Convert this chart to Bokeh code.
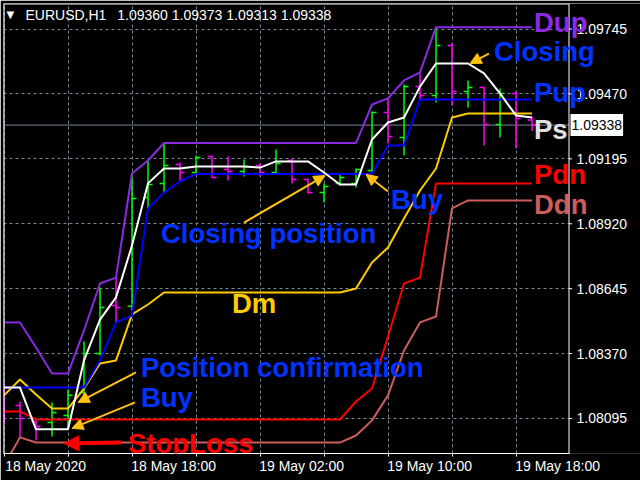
import numpy as np
from bokeh.plotting import figure
from bokeh.models import (ColumnDataSource, FixedTicker, LinearAxis, Label, Arrow,
                          NormalHead, Span, Range1d, Grid, BoxAnnotation)
from bokeh.embed import file_html
from bokeh.resources import INLINE

# ---------------- data ----------------
symbol = "EURUSD,H1"
x_labels = ["18 May 2020", "18 May 18:00", "19 May 02:00", "19 May 10:00", "19 May 18:00"]
x_label_bars = [0, 8, 16, 24, 32]
grid_bars = [0, 4, 8, 12, 16, 20, 24, 28, 32]
price_ticks = [1.08095, 1.08370, 1.08645, 1.08920, 1.09195, 1.09470, 1.09745]

opens = [1.08171, 1.08150, 1.08082, 1.08078, 1.08108, 1.08205, 1.08370, 1.08574, 1.08570, 1.09031,
         1.09091, 1.09171, 1.09137, 1.09205, 1.09150, 1.09141, 1.09167, 1.09137, 1.09188, 1.09108,
         1.09052, 1.09091, 1.09091, 1.09146, 1.09391, 1.09285, 1.09501, 1.09463, 1.09675, 1.09480,
         1.09497, 1.09340, 1.09472, 1.09360]
highs = [1.08248, 1.08167, 1.08087, 1.08163, 1.08218, 1.08421, 1.08650, 1.08692, 1.09133, 1.09188,
         1.09262, 1.09179, 1.09209, 1.09209, 1.09205, 1.09192, 1.09175, 1.09235, 1.09196, 1.09112,
         1.09091, 1.09133, 1.09154, 1.09396, 1.09451, 1.09510, 1.09557, 1.09753, 1.09684, 1.09527,
         1.09501, 1.09493, 1.09480, 1.09373]
lows = [1.08074, 1.08010, 1.08002, 1.08019, 1.08053, 1.08171, 1.08362, 1.08502, 1.08553, 1.08985,
        1.09048, 1.09099, 1.09129, 1.09116, 1.09103, 1.09120, 1.09120, 1.09133, 1.09091, 1.09048,
        1.09010, 1.09082, 1.09074, 1.09137, 1.09260, 1.09209, 1.09442, 1.09434, 1.09421, 1.09412,
        1.09251, 1.09285, 1.09239, 1.09313]
closes = [1.08125, 1.08095, 1.08061, 1.08120, 1.08193, 1.08370, 1.08565, 1.08565, 1.09027, 1.09086,
          1.09167, 1.09137, 1.09201, 1.09116, 1.09141, 1.09163, 1.09137, 1.09175, 1.09108, 1.09052,
          1.09078, 1.09116, 1.09150, 1.09391, 1.09290, 1.09501, 1.09463, 1.09675, 1.09480, 1.09497,
          1.09340, 1.09472, 1.09366, 1.09338]

dup = [1.08502, 1.08502, 1.08396, 1.08286, 1.08286, 1.08468, 1.08667, 1.08692, 1.09133, 1.09188,
       1.09262, 1.09262, 1.09262, 1.09262, 1.09262, 1.09262, 1.09262, 1.09262, 1.09262, 1.09262,
       1.09262, 1.09262, 1.09262, 1.09425, 1.09451, 1.09527, 1.09561, 1.09753, 1.09753, 1.09753,
       1.09753, 1.09753, 1.09753, 1.09753]
pup = [1.08226, 1.08226, 1.08226, 1.08226, 1.08226, 1.08226, 1.08341, 1.08502, 1.08531, 1.08985,
       1.09052, 1.09099, 1.09131, 1.09131, 1.09131, 1.09131, 1.09131, 1.09131, 1.09131, 1.09131,
       1.09131, 1.09131, 1.09131, 1.09131, 1.09251, 1.09251, 1.09446, 1.09446, 1.09446, 1.09446,
       1.09446, 1.09446, 1.09446, 1.09446]
ps = [1.08226, 1.08226, 1.08049, 1.08049, 1.08049, 1.08341, 1.08514, 1.08608, 1.08828, 1.09091,
      1.09154, 1.09154, 1.09163, 1.09163, 1.09163, 1.09163, 1.09158, 1.09184, 1.09184, 1.09184,
      1.09137, 1.09086, 1.09086, 1.09277, 1.09349, 1.09370, 1.09501, 1.09599, 1.09599, 1.09599,
      1.09557, 1.09472, 1.09379, 1.09370]
dm = [1.08193, 1.08260, 1.08197, 1.08137, 1.08137, 1.08222, 1.08328, 1.08341, 1.08536, 1.08578,
      1.08629, 1.08629, 1.08629, 1.08629, 1.08629, 1.08629, 1.08629, 1.08629, 1.08629, 1.08629,
      1.08629, 1.08629, 1.08646, 1.08756, 1.08819, 1.08942, 1.09061, 1.09154, 1.09370, 1.09387,
      1.09387, 1.09387, 1.09387, 1.09387]
pdn = [1.08125, 1.08125, 1.08091, 1.08091, 1.08091, 1.08091, 1.08091, 1.08091, 1.08091, 1.08091,
       1.08091, 1.08091, 1.08091, 1.08091, 1.08091, 1.08091, 1.08091, 1.08091, 1.08091, 1.08091,
       1.08091, 1.08091, 1.08167, 1.08222, 1.08442, 1.08667, 1.08692, 1.09091, 1.09091, 1.09091,
       1.09091, 1.09091, 1.09091, 1.09091]
ddn = [1.07896, 1.08015, 1.07993, 1.07993, 1.07993, 1.07993, 1.07993, 1.07993, 1.07993, 1.07993,
       1.07993, 1.07993, 1.07993, 1.07993, 1.07993, 1.07993, 1.07993, 1.07993, 1.07993, 1.07993,
       1.07993, 1.07993, 1.08023, 1.08087, 1.08193, 1.08383, 1.08502, 1.08527, 1.08985, 1.09019,
       1.09019, 1.09019, 1.09019, 1.09019]

# ---------------- styles / layout ----------------
BULL, BEAR = "#00FF00", "#FF00FF"
C_DUP, C_PUP, C_PS, C_DM, C_PDN, C_DDN = "#8A2BE2", "#0000FF", "#FFFFFF", "#FFCC00", "#FF0000", "#CD5C5C"
TXT_BLUE = "#0033FF"
GOLD = "#FFC20E"
GRID = "#778899"
FONT = "Liberation Sans"
TICK_FS = "14px"
NOTE_FS = "27.5px"

X_START = -0.03125
X_END = X_START + 637 / 16          # 16 px per hourly bar
X_EDGE = X_START + 565.5 / 16       # right border of the chart area
Y_START, Y_END = 1.079467, 1.098531

o = np.array(opens); h = np.array(highs); l = np.array(lows); c = np.array(closes)
idx = np.arange(len(c))
col = np.where(c >= o, BULL, BEAR)
tick = 0.28

p = figure(width=640, height=480, x_range=Range1d(X_START, X_END), y_range=Range1d(Y_START, Y_END),
           output_backend="svg", toolbar_location=None, x_axis_type=None, y_axis_type=None,
           min_border_left=3, min_border_top=3, min_border_right=0, min_border_bottom=27,
           background_fill_color="black", border_fill_color="black", outline_line_color=None)

# grids and borders (underlay)
p.add_layout(Grid(dimension=0, ticker=FixedTicker(ticks=grid_bars), grid_line_color=GRID,
                  grid_line_dash="3 3", grid_line_width=1))
p.add_layout(Grid(dimension=1, ticker=FixedTicker(ticks=price_ticks), grid_line_color=GRID,
                  grid_line_dash="3 3", grid_line_width=1))
p.add_layout(Span(location=closes[-1], dimension="width", line_color=GRID, line_width=1, level="underlay"))
p.add_layout(Span(location=Y_END, dimension="width", line_color="white", line_width=2, level="underlay"))
# price-scale area to the right of the chart
p.add_layout(BoxAnnotation(left=X_EDGE, fill_color="black", fill_alpha=1.0, line_color=None, level="underlay"))
p.add_layout(Span(location=X_EDGE, dimension="height", line_color="white", line_width=1))
p.add_layout(Span(location=X_START, dimension="height", line_color="white", line_width=2))

# time axis
label_shift = 2.6
label_pos = [b + label_shift for b in x_label_bars]
xax = LinearAxis(ticker=FixedTicker(ticks=label_pos, minor_ticks=grid_bars), bounds=(X_START, X_EDGE),
                 major_label_overrides={pos: lab for pos, lab in zip(label_pos, x_labels)},
                 axis_line_color="white", major_tick_line_color=None, major_tick_in=0, major_tick_out=3,
                 minor_tick_line_color="white", minor_tick_in=0, minor_tick_out=3,
                 major_label_text_color="white", major_label_text_font=FONT,
                 major_label_text_font_size=TICK_FS, major_label_standoff=1)
p.add_layout(xax, "below")

# price scale: tick marks and labels
p.segment(x0=[X_EDGE] * len(price_ticks), y0=price_ticks, x1=[X_EDGE + 0.19] * len(price_ticks),
          y1=price_ticks, line_color="white", line_width=1)
for t in price_ticks:
    p.add_layout(Label(x=X_EDGE, y=t, x_offset=7.5, text=f"{t:.5f}", text_color="white",
                       text_font=FONT, text_font_size=TICK_FS, text_baseline="middle"))

# OHLC bars
src = ColumnDataSource(dict(x=idx, xl=idx - tick, xr=idx + tick, o=o, h=h, l=l, c=c, col=col))
p.segment(x0="x", y0="l", x1="x", y1="h", line_color="col", line_width=1.5, source=src)
p.segment(x0="xl", y0="o", x1="x", y1="o", line_color="col", line_width=1.5, source=src)
p.segment(x0="x", y0="c", x1="xr", y1="c", line_color="col", line_width=1.5, source=src)

# indicator lines
for series, color in [(ddn, C_DDN), (pdn, C_PDN), (dm, C_DM), (pup, C_PUP), (dup, C_DUP), (ps, C_PS)]:
    p.line(idx, series, line_color=color, line_width=2)

# text annotations (text, bar position, price, colour)
notes = [
    ("Dup", 33.125, 1.09773, C_DUP),
    ("Closing", 30.625, 1.09650, TXT_BLUE),
    ("Pup", 33.125, 1.09476, TXT_BLUE),
    ("Ps", 33.125, 1.09319, "#E0E0E0"),
    ("Pdn", 33.125, 1.09129, C_PDN),
    ("Ddn", 33.125, 1.09002, C_DDN),
    ("Closing position", 9.81, 1.08879, TXT_BLUE),
    ("Buy", 24.19, 1.09023, TXT_BLUE),
    ("Dm", 14.25, 1.08582, C_DM),
    ("Position confirmation", 8.56, 1.08311, TXT_BLUE),
    ("Buy", 8.56, 1.08184, TXT_BLUE),
    ("StopLoss", 7.75, 1.07991, C_PDN),
]
for text, x, y, color in notes:
    p.add_layout(Label(x=x, y=y, text=text, text_color=color, text_font=FONT, text_font_style="bold",
                       text_font_size=NOTE_FS, text_baseline="middle"))

# arrows (tail -> tip)
arrows = [
    (30.31, 1.09641, 29.13, 1.09599, GOLD, 2, 11),
    (15.00, 1.08925, 20.06, 1.09124, GOLD, 2, 11),
    (24.00, 1.09057, 22.63, 1.09129, GOLD, 2, 11),
    (8.25, 1.08290, 4.63, 1.08163, GOLD, 2, 11),
    (8.19, 1.08163, 4.25, 1.08053, GOLD, 2, 11),
    (7.31, 1.07993, 3.75, 1.07989, C_PDN, 4, 15),
]
for xs, ys, xe, ye, color, lw, hs in arrows:
    p.add_layout(Arrow(x_start=xs, y_start=ys, x_end=xe, y_end=ye, line_color=color, line_width=lw,
                       end=NormalHead(size=hs, fill_color=color, line_color=color)))

# current price tag on the price scale
p.add_layout(Label(x=X_EDGE, y=closes[-1], x_offset=1.5, text=f"{closes[-1]:.5f}",
                   text_color="black", background_fill_color="white", text_font=FONT,
                   text_font_size=TICK_FS, text_baseline="middle", padding=(1, 6)))

# header
p.add_layout(Label(x=X_START, y=Y_END, x_offset=3, y_offset=-11, text="\u25BC",
                   text_color="white", text_font="DejaVu Sans", text_font_size="10px",
                   text_baseline="middle"))
header = (f"{symbol}\u2002 {opens[-1]:.5f} {highs[-1]:.5f} {lows[-1]:.5f} {closes[-1]:.5f}")
p.add_layout(Label(x=X_START, y=Y_END, x_offset=22, y_offset=-11, text=header,
                   text_color="white", text_font=FONT, text_font_size=TICK_FS, text_baseline="middle"))

open("out.html", "w").write(file_html(p, INLINE))
